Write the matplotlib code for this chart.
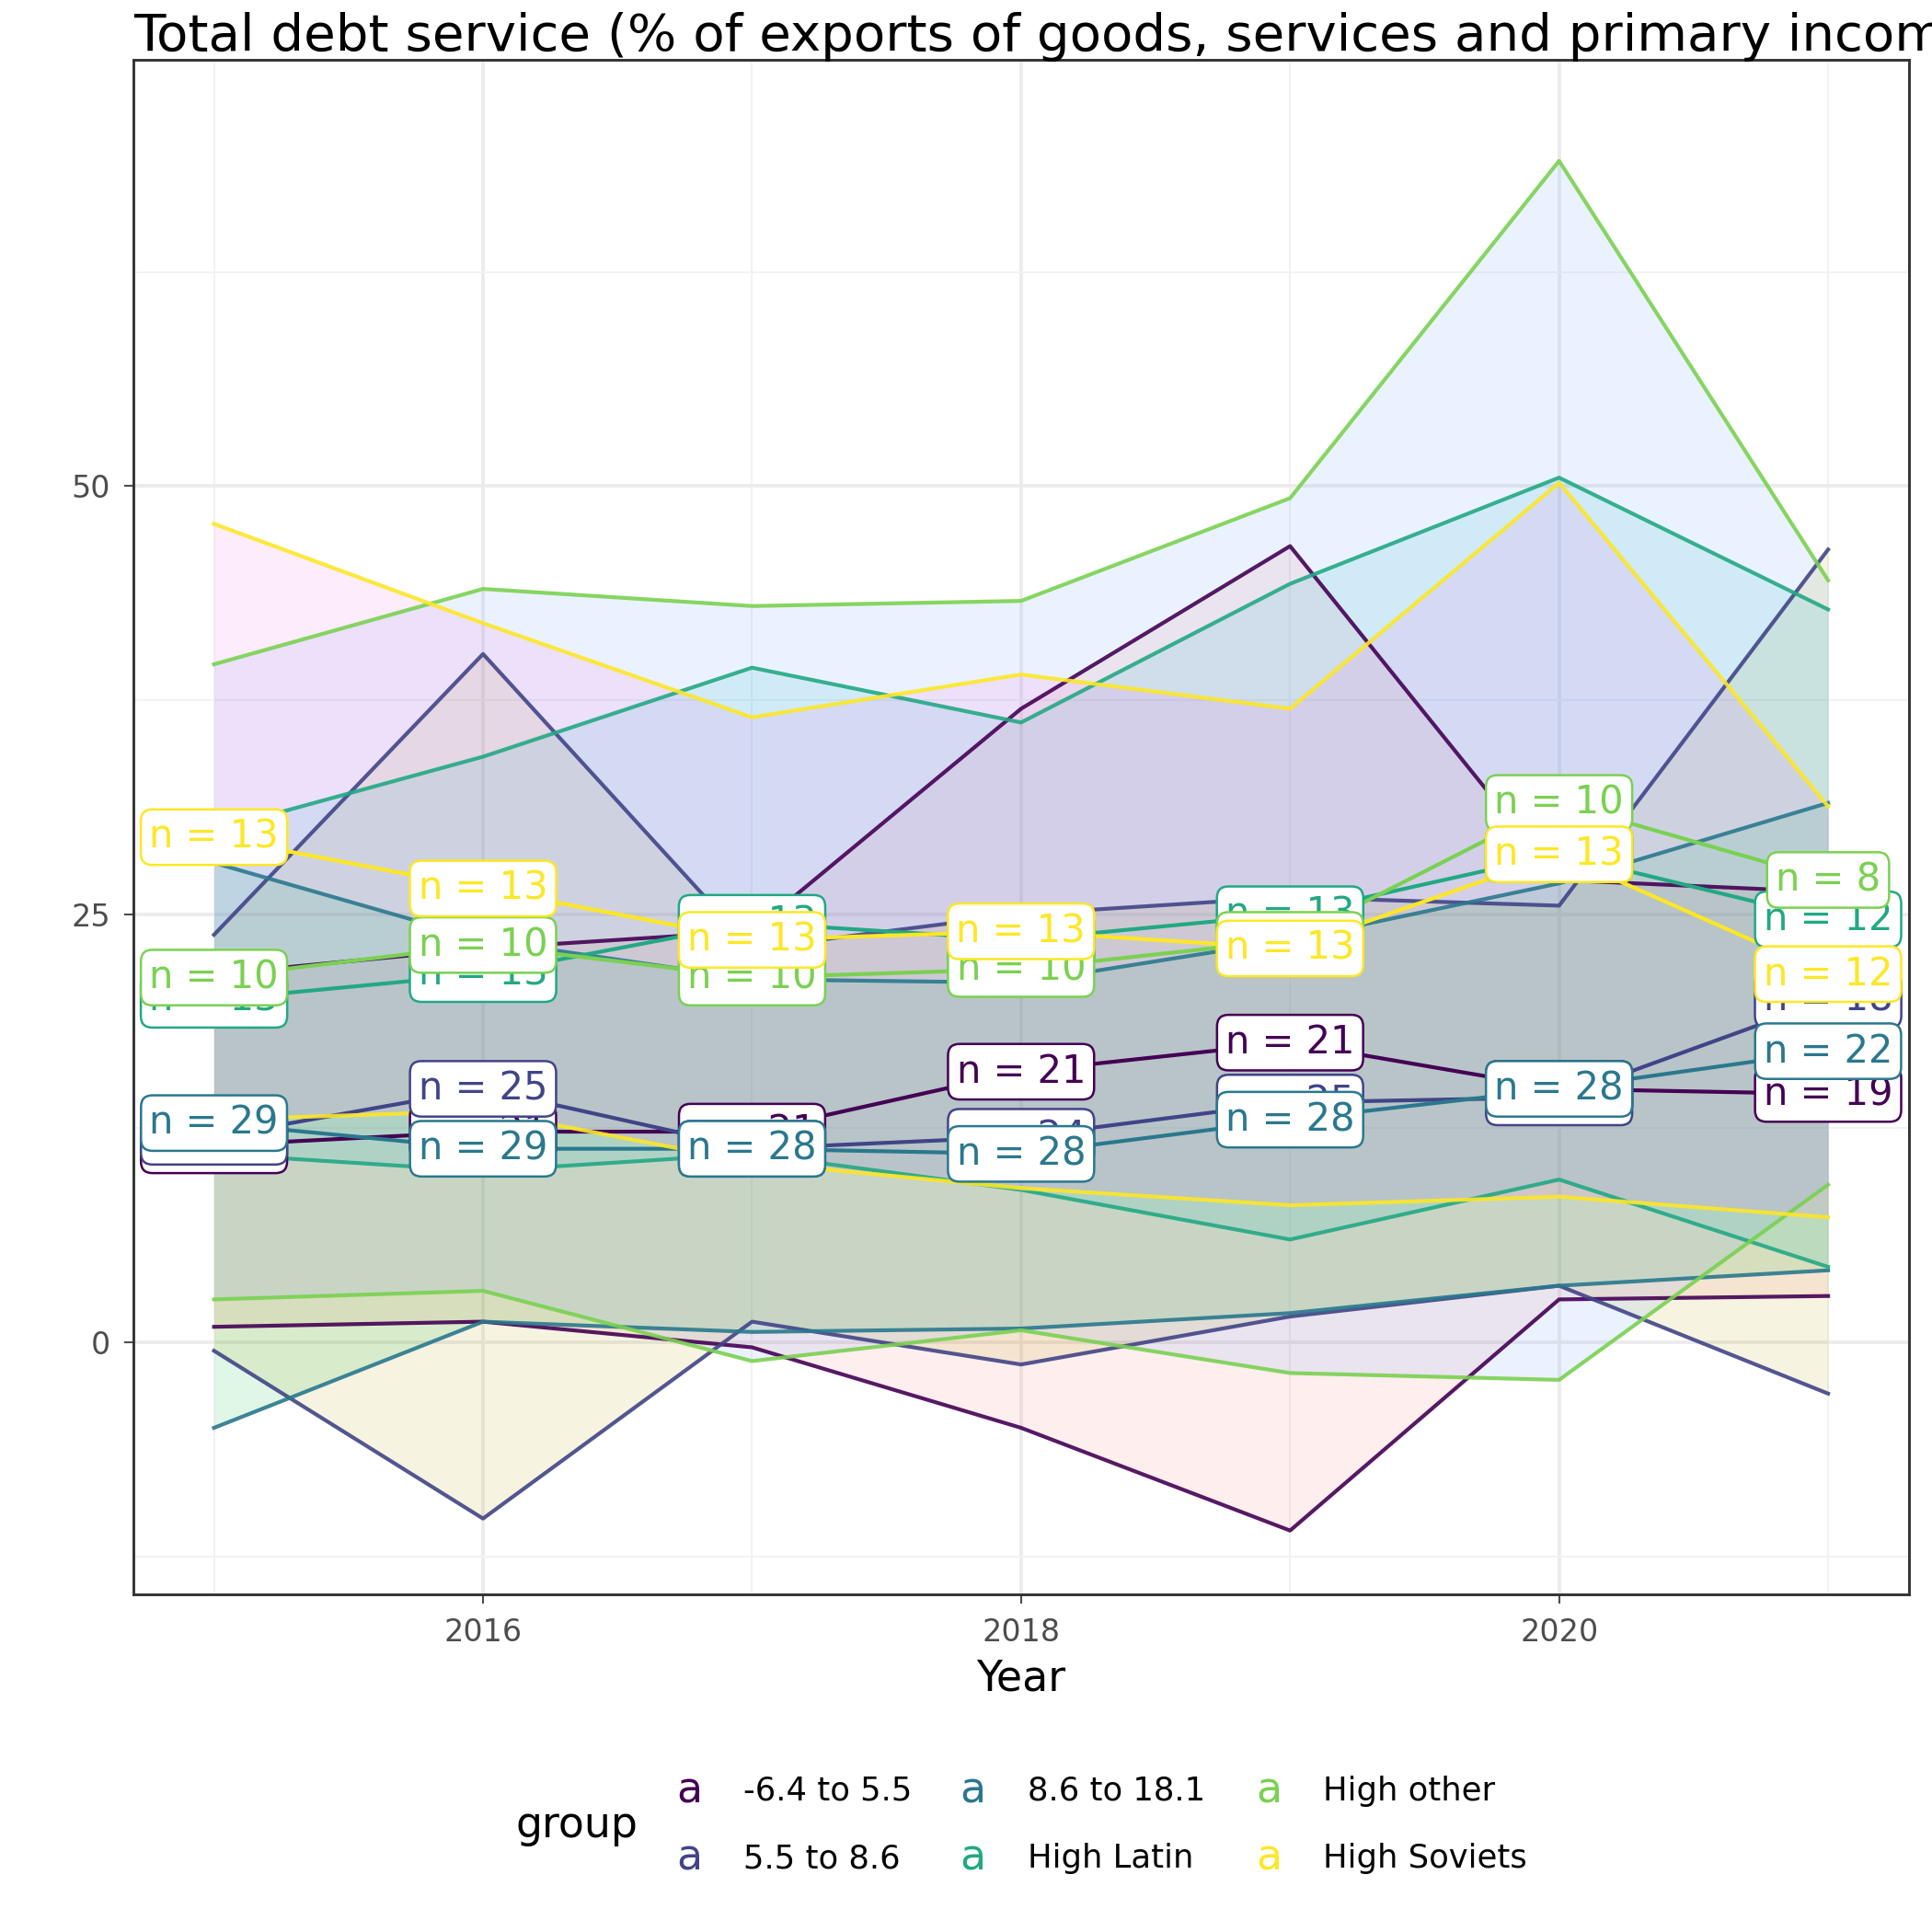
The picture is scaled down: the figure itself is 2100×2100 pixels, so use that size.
import numpy as np
import matplotlib.pyplot as plt

years = [2015, 2016, 2017, 2018, 2019, 2020, 2021]
groups = ['-6.4 to 5.5', '5.5 to 8.6', '8.6 to 18.1', 'High Latin', 'High other', 'High Soviets']
line_colors = ['#440154', '#414487', '#2A788E', '#22A884', '#7AD151', '#FDE725']
fill_colors = ['#F8766D', '#B79F00', '#00BA38', '#00BFC4', '#619CFF', '#F564E3']

upper = [
    [21.5, 23.0, 24.0, 37.0, 46.5, 27.0, 26.3],
    [23.8, 40.2, 23.0, 25.0, 26.0, 25.5, 46.3],
    [28.0, 23.5, 21.2, 21.0, 23.5, 26.8, 31.5],
    [29.9, 34.2, 39.4, 36.2, 44.3, 50.5, 42.8],
    [39.6, 44.0, 43.0, 43.3, 49.3, 69.0, 44.5],
    [47.8, 42.0, 36.5, 39.0, 37.0, 50.2, 31.3],
]
median = [
    [11.5, 12.3, 12.3, 15.8, 17.5, 14.8, 14.5],
    [12.0, 14.8, 11.3, 12.0, 14.0, 14.3, 20.0],
    [12.8, 11.3, 11.3, 11.0, 13.0, 14.8, 17.0],
    [20.0, 21.5, 24.5, 23.5, 25.0, 28.5, 24.7],
    [21.3, 23.2, 21.3, 21.8, 23.5, 31.5, 27.0],
    [29.5, 26.5, 23.5, 24.0, 23.0, 28.5, 21.5],
]
lower = [
    [0.9, 1.2, -0.3, -5.0, -11.0, 2.5, 2.7],
    [-0.5, -10.3, 1.2, -1.3, 1.5, 3.3, -3.0],
    [-5.0, 1.2, 0.6, 0.8, 1.7, 3.3, 4.2],
    [11.0, 10.0, 11.0, 8.9, 6.0, 9.5, 4.4],
    [2.5, 3.0, -1.1, 0.7, -1.8, -2.2, 9.2],
    [13.0, 13.5, 10.5, 9.0, 8.0, 8.5, 7.3],
]
counts = [
    [20, 21, 21, 21, 21, 21, 19],
    [25, 25, 24, 24, 25, 25, 18],
    [29, 29, 28, 28, 28, 28, 22],
    [13, 13, 13, 13, 13, 13, 12],
    [10, 10, 10, 10, 10, 10, 8],
    [13, 13, 13, 13, 13, 13, 12],
]

fig = plt.figure(figsize=(7, 7), dpi=300)
ax = fig.add_axes([0.069, 0.175, 0.919, 0.794])

for i in range(len(groups)):
    ax.fill_between(years, lower[i], upper[i], color=fill_colors[i], alpha=0.12, lw=0, zorder=1)
for i in range(len(groups)):
    ax.plot(years, upper[i], color=line_colors[i], lw=1.0, alpha=0.9, zorder=2)
    ax.plot(years, lower[i], color=line_colors[i], lw=1.0, alpha=0.9, zorder=2)
    ax.plot(years, median[i], color=line_colors[i], lw=1.0, zorder=2)
for i in range(len(groups)):
    for x, y, n in zip(years, median[i], counts[i]):
        ax.text(x, y, f'n = {n}', color=line_colors[i], fontsize=10, ha='center', va='center',
                zorder=3, clip_on=False,
                bbox=dict(boxstyle='round,pad=0.22,rounding_size=0.3', fc='white', ec=line_colors[i], lw=0.6))

ax.set_xlim(2014.7, 2021.3)
ax.set_ylim(-14.7, 74.9)
ax.set_xticks([2016, 2018, 2020])
ax.set_xticks([2015, 2017, 2019, 2021], minor=True)
ax.set_yticks([0, 25, 50])
ax.set_yticks([-12.5, 12.5, 37.5, 62.5], minor=True)
ax.grid(True, which='major', color='#EBEBEB', lw=0.9, zorder=0)
ax.grid(True, which='minor', color='#F2F2F2', lw=0.5, zorder=0)
ax.set_axisbelow(True)
ax.tick_params(which='major', labelsize=8, colors='#4D4D4D', length=2.5, width=0.5)
ax.tick_params(which='minor', length=0)
for s in ax.spines.values():
    s.set_color('#333333')
    s.set_linewidth(0.7)
ax.set_xlabel('Year', fontsize=11, labelpad=3)
fig.text(0.069, 0.974, 'Total debt service (% of exports of goods, services and primary income)',
         fontsize=13.5, ha='left', va='baseline')

# legend
fig.text(0.267, 0.055, 'group', fontsize=11, ha='left', va='center')
col_x = [0.35, 0.497, 0.65]
row_y = [0.073, 0.038]
for i, g in enumerate(groups):
    c, r = divmod(i, 2)
    fig.text(col_x[c], row_y[r], 'a', color=line_colors[i], fontsize=11, ha='left', va='center')
    fig.text(col_x[c] + 0.035, row_y[r], g, fontsize=8.5, ha='left', va='center')

fig.savefig('out.png', dpi=300)
